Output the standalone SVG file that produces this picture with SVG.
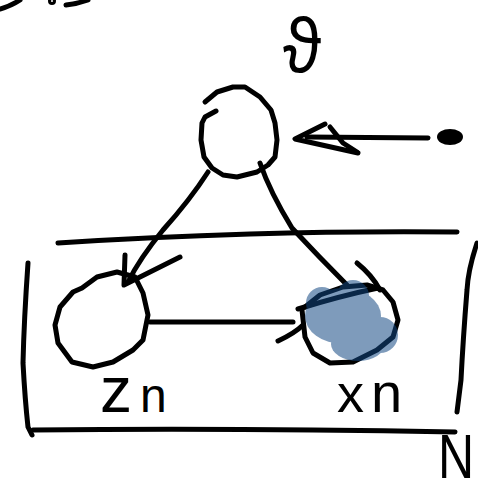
<svg xmlns="http://www.w3.org/2000/svg" width="478" height="492" viewBox="0 0 478 492">
  <style>
    .ink { fill: none; stroke: #000; stroke-width: 5; stroke-linecap: round; stroke-linejoin: round; }
    .lbl { font-family: "Liberation Sans", "DejaVu Sans", sans-serif; fill: #000; }
  </style>
  <rect width="478" height="492" fill="#fff"/>

  <!-- strokes cut off at the top edge -->
  <g id="edge-marks" class="ink">
    <path d="M0,9 Q11,6 20,0"/>
    <circle cx="52" cy="1" r="1.5"/>
    <path d="M66,5 Q77,4 88,0"/>
  </g>

  <!-- plate -->
  <g id="plate" class="ink">
    <path d="M58,243 Q150,237 250,234 T457,232"/>
    <path d="M28,263 Q24,320 23,363 Q25,400 28,427 L32,435"/>
    <path d="M33,430 Q240,428 455,432"/>
    <path d="M477,243 Q468,270 467,290 Q463,340 461,380 L457,412"/>
  </g>
  <text id="label-N" class="lbl" transform="translate(438,478) scale(1,1.25)" font-size="50">N</text>

  <!-- global parameter node -->
  <g id="node-theta">
    <path class="ink" d="M205,102 L217,92 L233,87 L245,87 L260,97 L271,110 L275,123 L277,140 L275,157 L268,165 L257,172 L237,177 L223,175 L212,168 L204,157 L201,140 L202,123 L205,117 L216,111"/>
    <text class="lbl" transform="translate(283,73) scale(1,1.1)" font-size="70" font-family="DejaVu Sans, sans-serif">ϑ</text>
  </g>

  <!-- fixed hyperparameter -->
  <g id="node-hyper">
    <ellipse cx="450" cy="137" rx="13" ry="8" fill="#000"/>
  </g>

  <!-- latent node -->
  <g id="node-zn">
    <path class="ink" d="M82,288 L97,277 L117,272 L135,277 L143,293 L148,315 L143,340 L133,350 L113,362 L93,367 L72,362 L58,343 L55,325 L60,307 L73,292 L82,288"/>
    <text class="lbl" x="100" y="412"><tspan font-size="64">z</tspan><tspan dx="8" font-size="48">n</tspan></text>
  </g>

  <!-- observed node -->
  <g id="node-xn">
    <path class="ink" d="M302,310 L305,337 L313,353 L330,363 L353,362 L377,350 L393,337 L398,320 L393,302 L383,290 L367,285 L343,287 L320,295 L305,307"/>
    <text class="lbl" x="337" y="412"><tspan font-size="54">x</tspan><tspan dx="7" font-size="56">n</tspan></text>
  </g>

  <!-- connectors -->
  <g id="connectors" class="ink">
    <!-- hyperparameter to theta -->
    <path d="M428,138 L307,137"/>
    <path d="M325,124 L295,139 L358,153"/>
    <path d="M330,127 L343,143 L357,152"/>
    <!-- theta to z_n -->
    <path d="M208,172 Q190,200 163,230 Q140,258 128,282"/>
    <path d="M125,255 L124,285 L180,257"/>
    <!-- theta to x_n -->
    <path d="M260,163 Q270,192 292,228 Q320,258 347,285"/>
    <path d="M357,263 Q372,275 380,290"/>
    <path d="M298,309 Q340,296 378,288"/>
    <!-- z_n to x_n -->
    <path d="M150,322 L293,322"/>
    <path d="M278,341 Q295,333 303,325"/>
  </g>

  <!-- shading of the observed node -->
  <g id="shade-xn" fill="#134883" opacity="0.54">
    <circle cx="353" cy="296" r="16"/>
    <ellipse cx="343" cy="316" rx="38" ry="28"/>
    <circle cx="380" cy="335" r="18"/>
    <ellipse cx="358" cy="344" rx="27" ry="17"/>
    <circle cx="322" cy="303" r="16"/>
  </g>
</svg>
